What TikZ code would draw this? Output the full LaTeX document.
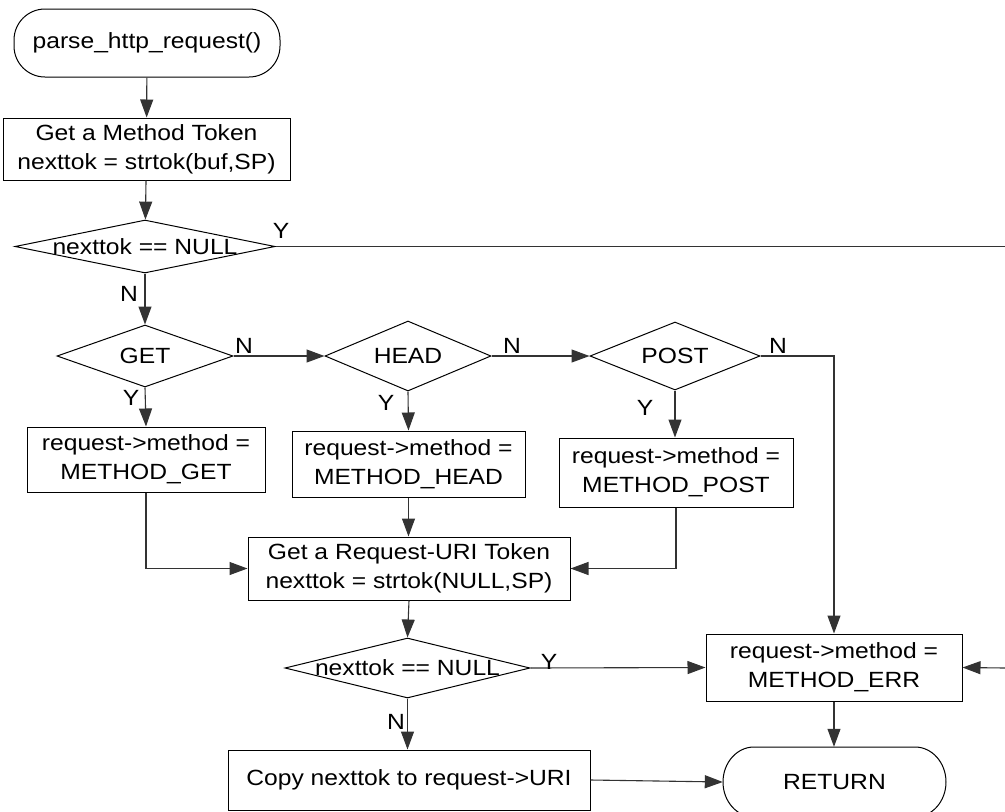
\documentclass[tikz,border=0pt]{standalone}
\usepackage{fontspec}
\setmainfont{Liberation Sans}[FakeStretch=1.12]
\usetikzlibrary{shapes.geometric,arrows.meta}
\begin{document}
\begin{tikzpicture}[x=1pt,y=-1pt,
  font=\fontsize{22}{29}\selectfont,
  box/.style={draw, line width=1pt, align=center, inner sep=0pt},
  term/.style={draw, line width=1pt, align=center, inner sep=0pt, rounded corners=31pt},
  dec/.style={draw, diamond, line width=1pt, inner sep=0pt},
  conn/.style={line width=1.1pt, draw=black!80},
  arr/.style={conn, -{Triangle[length=18pt,width=13pt]}},
  lbl/.style={inner sep=0pt}
]
\useasboundingbox (0,0) rectangle (1005,812);

% nodes
\node[term, minimum width=266pt, minimum height=68pt] (start) at (147,43) {parse\_http\_request()};
\node[box, minimum width=287pt, minimum height=62pt] (tok1) at (146.5,149) {Get a Method Token\\nexttok = strtok(buf,SP)};
\node[dec, minimum width=260pt, minimum height=53pt, label={center:nexttok == NULL}] (d1) at (145,246.5) {};
\node[dec, minimum width=176pt, minimum height=62pt, label={center:GET}] (get) at (145,356) {};
\node[dec, minimum width=166pt, minimum height=70pt, label={center:HEAD}] (head) at (408,356) {};
\node[dec, minimum width=170pt, minimum height=68pt, label={center:POST}] (post) at (675,356) {};
\node[box, minimum width=238pt, minimum height=65pt] (mget) at (146,459.5) {request->method =\\METHOD\_GET};
\node[box, minimum width=233pt, minimum height=66pt] (mhead) at (408.5,464) {request->method =\\METHOD\_HEAD};
\node[box, minimum width=234pt, minimum height=69pt] (mpost) at (676,472.5) {request->method =\\METHOD\_POST};
\node[box, minimum width=322pt, minimum height=63pt] (tok2) at (409,568.5) {Get a Request-URI Token\\nexttok = strtok(NULL,SP)};
\node[dec, minimum width=245pt, minimum height=60pt, label={center:nexttok == NULL}] (d2) at (407.5,668) {};
\node[box, minimum width=256pt, minimum height=67pt] (merr) at (834,667.5) {request->method =\\METHOD\_ERR};
\node[box, minimum width=362pt, minimum height=60pt] (copy) at (409,780) {Copy nexttok to request->URI};
\node[inner sep=0pt, minimum width=223pt, minimum height=70pt] (ret) at (834.5,782) {RETURN};
\draw[line width=1pt] (754,747) -- (915,747)
  arc[start angle=-90, end angle=90, x radius=31, y radius=35]
  -- (754,817)
  arc[start angle=90, end angle=270, x radius=31, y radius=35] -- cycle;

\coordinate (e1) at (1005,246.5);
\coordinate (e2) at (1005,668);

% connectors
\draw[arr] (start) -- (tok1);
\draw[arr] (tok1) -- (d1);
\draw[conn] (d1.east) -- (e1);
\draw[arr] (d1.south) -- (get.north);
\draw[arr] (get.east) -- (head.west);
\draw[arr] (head.east) -- (post.west);
\draw[arr] (post.east) -| (merr.north);
\draw[arr] (get.south) -- (mget.north);
\draw[arr] (head.south) -- (mhead.north);
\draw[arr] (post.south) -- (post.south |- mpost.north);
\draw[arr] (mget.south) |- (tok2.west);
\draw[arr] (mhead.south) -- (mhead.south |- tok2.north);
\draw[arr] (mpost.south) |- (tok2.east);
\draw[arr] (tok2.south) -- (d2.north);
\draw[arr] (d2.east) -- (merr.west);
\draw[arr] (e2) -- (merr.east);
\draw[arr] (merr.south) -- (merr.south |- ret.north);
\draw[arr] (d2.south) -- (d2.south |- copy.north);
\draw[arr] (copy.east) -- (ret.west);

% labels
\node[lbl] (ly1) at (281,231) {Y};
\node[lbl] (ln1) at (129,294) {N};
\node[lbl] (ln2) at (244,346) {N};
\node[lbl] (ly2) at (131,398) {Y};
\node[lbl] (ln3) at (512,346) {N};
\node[lbl] (ly3) at (386,403) {Y};
\node[lbl] (ln4) at (778,346) {N};
\node[lbl] (ly4) at (645,408) {Y};
\node[lbl] (ly5) at (549,662) {Y};
\node[lbl] (ln5) at (396,722) {N};
\end{tikzpicture}
\end{document}
